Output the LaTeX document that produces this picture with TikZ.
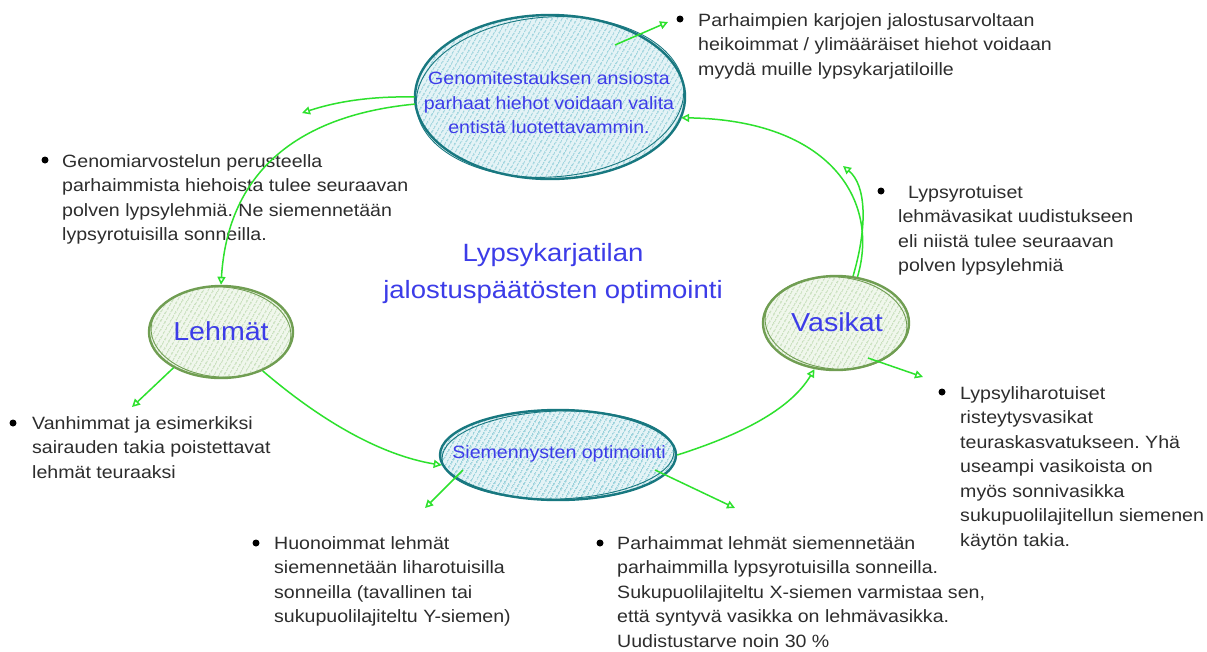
\documentclass[tikz,border=0pt]{standalone}
\usepackage{fontspec}
\setmainfont{Liberation Sans}[FakeStretch=1.1]
\usetikzlibrary{shapes.geometric,arrows.meta,patterns.meta,calc}
\definecolor{tealc}{RGB}{24,120,128}
\definecolor{tealbg}{RGB}{228,243,246}
\definecolor{tealh}{RGB}{118,194,207}
\definecolor{greenc}{RGB}{112,158,82}
\definecolor{greenbg}{RGB}{240,247,236}
\definecolor{greenh}{RGB}{178,211,162}
\definecolor{arrc}{RGB}{45,225,45}
\definecolor{bluec}{RGB}{60,60,232}
\definecolor{bodyc}{RGB}{45,45,45}
\frenchspacing
\begin{document}
\begin{tikzpicture}[x=1pt,y=-1pt,
  txt/.style={anchor=north west, inner sep=0pt, align=left, text=bodyc, font=\fontsize{17.8}{24.5}\selectfont},
  etxt/.style={inner sep=0pt, align=center, text=bluec, font=\fontsize{17.8}{24.6}\selectfont},
  bigtxt/.style={inner sep=0pt, text=bluec, font=\fontsize{26}{30}\selectfont},
  titletxt/.style={anchor=north, inner sep=0pt, align=center, text=bluec, font=\fontsize{25}{36.5}\selectfont},
  tealell/.style={ellipse, draw=tealc, line width=2.4pt, inner sep=0pt, preaction={fill=tealbg}, pattern={Lines[angle=60,distance=4pt,line width=1pt]}, pattern color=tealh},
  greenell/.style={ellipse, draw=greenc, line width=2.4pt, inner sep=0pt, preaction={fill=greenbg}, pattern={Lines[angle=60,distance=4pt,line width=1pt]}, pattern color=greenh},
  sketch/.style={line width=0.9pt},
  arr/.style={draw=arrc, line width=1.5pt, -{Triangle[open,length=8pt,width=8pt]}},
  bul/.style={fill=black}
]
\useasboundingbox[fill=white] (0,0) rectangle (1207,651);

% ellipses
\node[tealell, minimum width=270pt, minimum height=164pt] (gen) at (550,97) {};
\draw[sketch, tealc, rotate around={4:(gen.center)}] (gen.center) ellipse [x radius=134, y radius=80];
\node[greenell, minimum width=144pt, minimum height=92pt] (leh) at (221,332) {};
\draw[sketch, greenc, rotate around={-4:(leh.center)}] (leh.center) ellipse [x radius=70, y radius=45];
\node[tealell, minimum width=236pt, minimum height=90pt] (sie) at (558,455) {};
\draw[sketch, tealc, rotate around={2:(sie.center)}] (sie.center) ellipse [x radius=116, y radius=44];
\node[greenell, minimum width=146pt, minimum height=94pt] (vas) at (836,323) {};
\draw[sketch, greenc, rotate around={-5:(vas.center)}] (vas.center) ellipse [x radius=71, y radius=46];

% ellipse texts
\node[etxt, anchor=north] (gent) at (549,67) {\strut Genomitestauksen ansiosta\\parhaat hiehot voidaan valita\\entistä luotettavammin.};
\node[bigtxt] (leht) at (221,331) {Lehmät};
\node[etxt] (siet) at (559,454) {Siemennysten optimointi};
\node[bigtxt] (vast) at (837,322) {Vasikat};
\node[titletxt] (ttl) at (553,236) {\strut Lypsykarjatilan\\jalostuspäätösten optimointi};

% free ends
\coordinate (e1) at (668,22);
\coordinate (e2) at (302,113);
\coordinate (e3) at (843,166);
\coordinate (e4) at (132,407);
\coordinate (e5) at (425,508);
\coordinate (e6) at (735,508);
\coordinate (e7) at (923,377);

% body texts
\fill[bul] (680,19) circle[radius=3.5];
\node[txt] (t1) at (698,9) {\strut Parhaimpien karjojen jalostusarvoltaan\\heikoimmat / ylimääräiset hiehot voidaan\\myydä muille lypsykarjatiloille};
\fill[bul] (45,160) circle[radius=3.5];
\node[txt] (t2) at (62,150) {\strut Genomiarvostelun perusteella\\parhaimmista hiehoista tulee seuraavan\\polven lypsylehmiä. Ne siemennetään\\lypsyrotuisilla sonneilla.};
\fill[bul] (881,191) circle[radius=3.5];
\node[txt] (t3) at (898,181) {\strut\hspace*{10pt}Lypsyrotuiset\\lehmävasikat uudistukseen\\eli niistä tulee seuraavan\\polven lypsylehmiä};
\fill[bul] (942,392) circle[radius=3.5];
\node[txt] (t4) at (960,382) {\strut Lypsyliharotuiset\\risteytysvasikat\\teuraskasvatukseen. Yhä\\useampi vasikoista on\\myös sonnivasikka\\sukupuolilajitellun siemenen\\käytön takia.};
\fill[bul] (13,423) circle[radius=3.5];
\node[txt] (t5) at (32,412) {\strut Vanhimmat ja esimerkiksi\\sairauden takia poistettavat\\lehmät teuraaksi};
\fill[bul] (256,543) circle[radius=3.5];
\node[txt] (t6) at (274,532) {\strut Huonoimmat lehmät\\siemennetään liharotuisilla\\sonneilla (tavallinen tai\\sukupuolilajiteltu Y-siemen)};
\fill[bul] (600,543) circle[radius=3.5];
\node[txt] (t7) at (617,532) {\strut Parhaimmat lehmät siemennetään\\parhaimmilla lypsyrotuisilla sonneilla.\\Sukupuolilajiteltu X-siemen varmistaa sen,\\että syntyvä vasikka on lehmävasikka.\\Uudistustarve noin 30 \%};

% connectors
\draw[arr] ($(gen.center)+(65,-52)$) -- (e1);
\draw[arr] (gen.180) .. controls (370,96) and (335,102) .. (e2);
\draw[arr] (gen.183) .. controls (300,115) and (228,170) .. (leh.north);
\draw[arr] (vas.65) .. controls (880,200) and (830,120) .. (gen.351);
\draw[arr] (vas.70) .. controls (868,225) and (866,185) .. (e3);
\draw[arr] (leh.217) -- (e4);
\draw[arr] (leh.317) .. controls (320,420) and (380,455) .. (sie.185);
\draw[arr] ($(sie.center)+(-95,15)$) -- (e5);
\draw[arr] ($(sie.center)+(97,15)$) -- (e6);
\draw[arr] (sie.east) .. controls (740,435) and (790,410) .. (vas.245);
\draw[arr] ($(vas.center)+(32,35)$) -- (e7);
\end{tikzpicture}
\end{document}
